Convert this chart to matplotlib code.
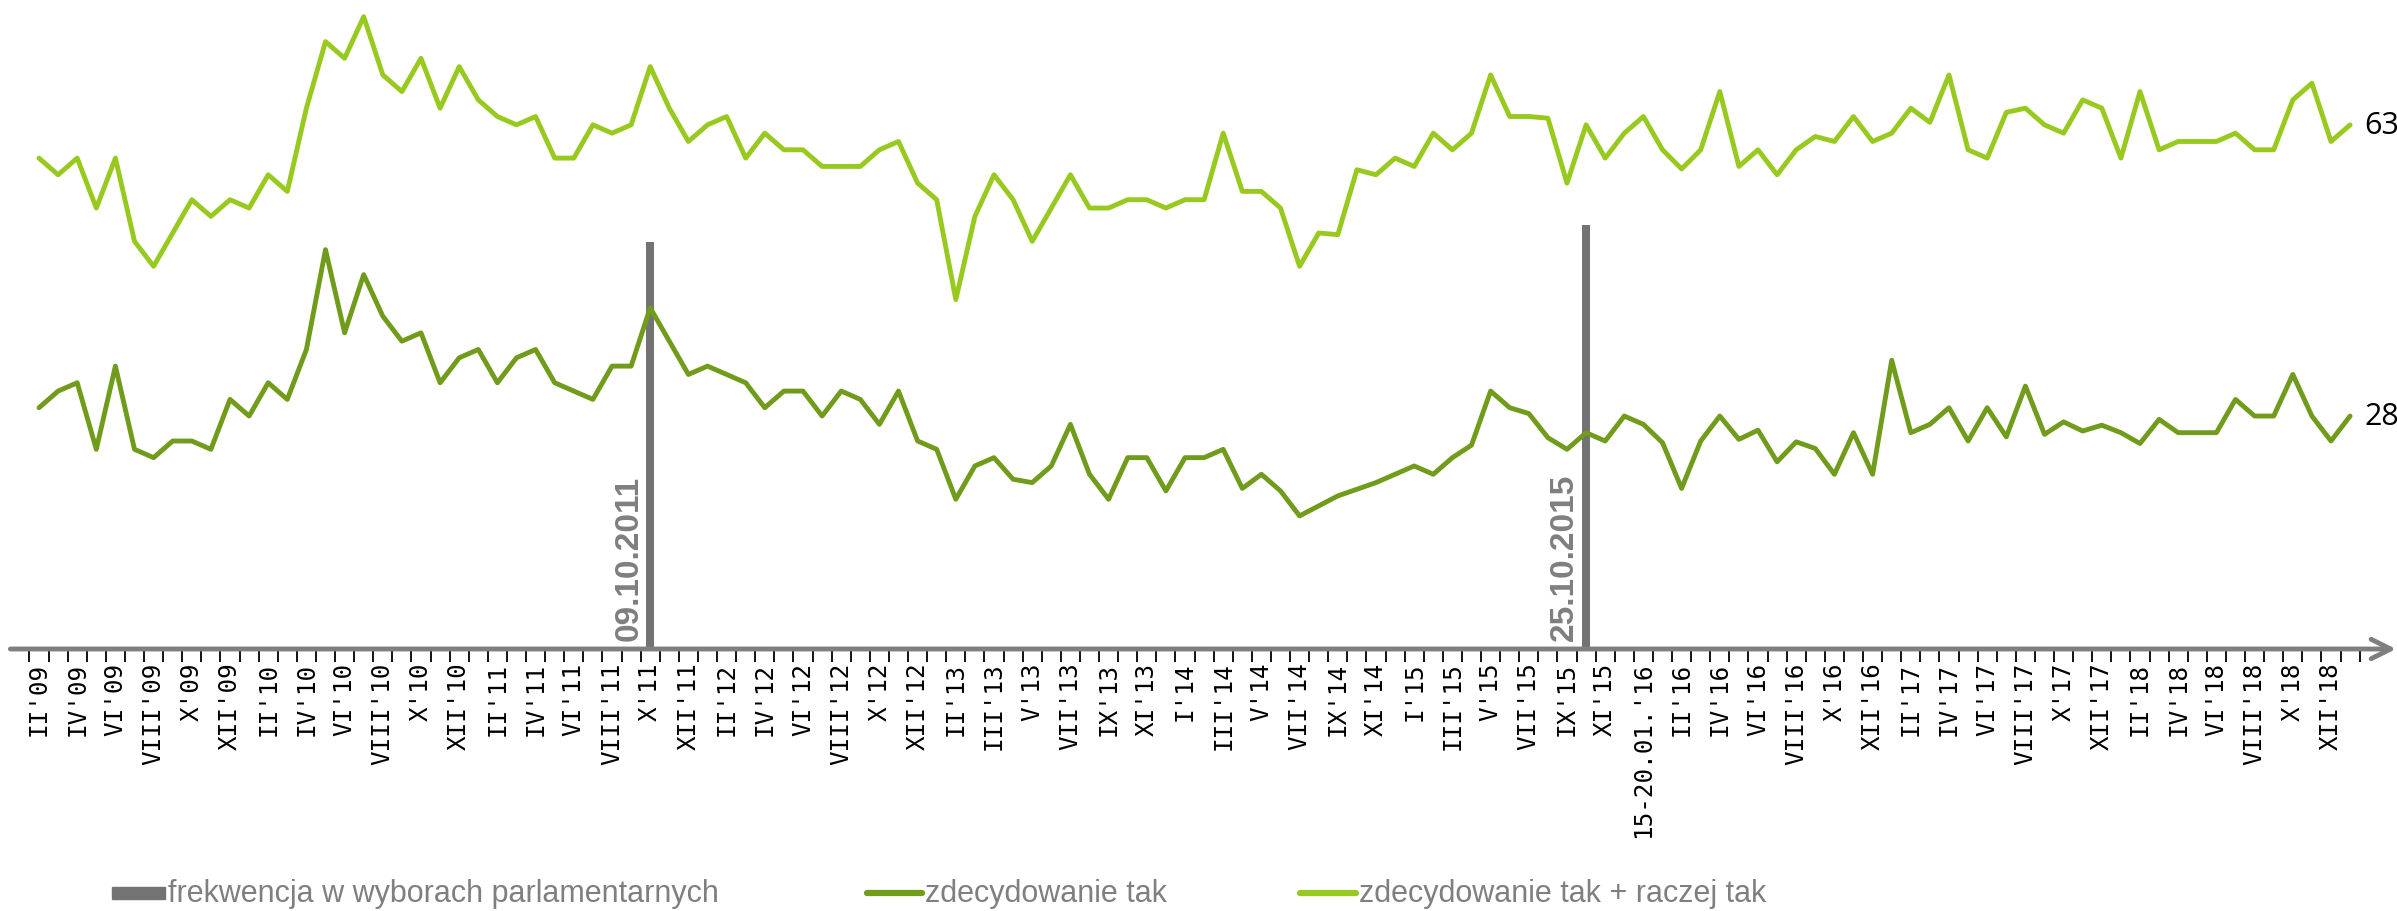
import matplotlib
matplotlib.use('Agg')
import matplotlib.pyplot as plt
import numpy as np

# survey waves, one label every second wave
tick_labels = ["II'09", "IV'09", "VI'09", "VIII'09", "X'09", "XII'09",
               "II'10", "IV'10", "VI'10", "VIII'10", "X'10", "XII'10",
               "II'11", "IV'11", "VI'11", "VIII'11", "X'11", "XII'11",
               "II'12", "IV'12", "VI'12", "VIII'12", "X'12", "XII'12",
               "II'13", "III'13", "V'13", "VII'13", "IX'13", "XI'13",
               "I'14", "III'14", "V'14", "VII'14", "IX'14", "XI'14",
               "I'15", "III'15", "V'15", "VII'15", "IX'15", "XI'15",
               "15-20.01.'16", "II'16", "IV'16", "VI'16", "VIII'16", "X'16", "XII'16",
               "II'17", "IV'17", "VI'17", "VIII'17", "X'17", "XII'17",
               "II'18", "IV'18", "VI'18", "VIII'18", "X'18", "XII'18"]

# zdecydowanie tak + raczej tak
yes_total = [59, 57, 59, 53, 59, 49, 46, 50, 54, 52, 54, 53, 57, 55, 65, 73, 71, 76, 69, 67,
             71, 65, 70, 66, 64, 63, 64, 59, 59, 63, 62, 63, 70, 65, 61, 63, 64, 59, 62, 60,
             60, 58, 58, 58, 60, 61, 56, 54, 42, 52, 57, 54, 49, 53, 57, 53, 53, 54, 54, 53,
             54, 54, 62, 55, 55, 53, 46, 50, 49.8, 57.6, 57, 59, 58, 62, 60, 62, 69, 64, 64, 63.8,
             56, 63, 59, 62, 64, 60, 57.7, 60, 67, 58, 60, 57, 60, 61.6, 61, 64, 61, 62, 65, 63.3,
             69, 60, 59, 64.5, 65, 63, 62, 66, 65, 59, 67, 60, 61, 61, 61, 62, 60, 60, 66, 68,
             61, 63]

# zdecydowanie tak
yes_strong = [29, 31, 32, 24, 34, 24, 23, 25, 25, 24, 30, 28, 32, 30, 36, 48, 38, 45, 40, 37,
              38, 32, 35, 36, 32, 35, 36, 32, 31, 30, 34, 34, 41, 37, 33, 34, 33, 32, 29, 31,
              31, 28, 31, 30, 27, 31, 25, 24, 18, 22, 23, 20.4, 20, 22, 27, 21, 18, 23, 23, 19,
              23, 23, 24, 19.3, 21, 19, 16, 17.2, 18.4, 19.2, 20, 21, 22, 21, 23, 24.5, 31, 29, 28.3, 25.4,
              24, 26, 25, 28, 27, 24.8, 19.3, 25, 28, 25.2, 26.3, 22.5, 24.9, 24.1, 21, 26, 21, 34.7, 26, 27,
              29, 25, 29, 25.5, 31.6, 25.8, 27.3, 26.2, 26.9, 26, 24.7, 27.6, 26, 26, 26, 30, 28, 28, 33, 28,
              25, 28]

# turnout in parliamentary elections
election_idx = [32, 81]
election_turnout = [48.92, 50.92]
election_dates = ['09.10.2011', '25.10.2015']

LIGHT = '#98C91F'
DARK = '#709B1B'
GREY = '#737373'
TXT_GREY = '#7F7F7F'
NARROW = ['Liberation Sans Narrow', 'Liberation Sans', 'DejaVu Sans']

W, H = 2397, 912
fig = plt.figure(figsize=(W / 100, H / 100), dpi=100)
ax_bottom = (H - 650) / H
ax = fig.add_axes([0, ax_bottom, 1, 1 - ax_bottom])

n = len(yes_total)
x = np.arange(n)
step = 19.1
xmin = -39 / step
xmax = xmin + W / step
ax.set_xlim(xmin, xmax)
ax.set_ylim(0, 650 / 8.32)

ax.bar(election_idx, election_turnout, width=0.42, color=GREY, zorder=1)
for i, d in zip(election_idx, election_dates):
    ax.text(i - 0.3, 1.1, d, rotation=90, ha='right', va='bottom', color=TXT_GREY,
            fontsize=24, fontweight='bold', family=NARROW)

ax.plot(x, yes_strong, color=DARK, lw=3.5, solid_joinstyle='round', solid_capstyle='round', zorder=3)
ax.plot(x, yes_total, color=LIGHT, lw=3.5, solid_joinstyle='round', solid_capstyle='round', zorder=3)

ax.text(n - 1 + 0.75, yes_total[-1], f'{yes_total[-1]:g}', va='center', ha='left',
        fontsize=22, family='Open Sans', color='black')
ax.text(n - 1 + 0.75, yes_strong[-1], f'{yes_strong[-1]:g}', va='center', ha='left',
        fontsize=22, family='Open Sans', color='black')

for s in ax.spines.values():
    s.set_visible(False)
ax.set_yticks([])

# x axis line with arrow
ax.annotate('', xy=(xmax - 0.05, 0), xytext=(-1.5, 0), xycoords='data',
            arrowprops=dict(arrowstyle='->', color=TXT_GREY, lw=3.5, mutation_scale=35,
                            shrinkA=0, shrinkB=0), annotation_clip=False)

ax.set_xticks(np.arange(-0.5, n, 1.0), minor=True)
ax.set_xticks(np.arange(0, n, 2))
ax.set_xticklabels(tick_labels, rotation=90, family='DejaVu Sans Mono', fontsize=17.5)
ax.tick_params(axis='x', which='major', length=0, pad=9)
ax.tick_params(axis='x', which='minor', length=9, width=1.3, color='black', direction='out')
for lab in ax.get_xticklabels():
    lab.set_va('top')

# legend
def px(xp, yp):
    return xp / W, 1 - yp / H

ly = 894
fig.patches.append(plt.Rectangle(px(112, ly + 6), 53 / W, 12 / H, transform=fig.transFigure,
                                 color=GREY, figure=fig))
fig.text(*px(168, ly), 'frekwencja w wyborach parlamentarnych', va='center', ha='left',
         fontsize=22, color=TXT_GREY, family=NARROW)
fig.lines.append(plt.Line2D([867 / W, 922 / W], [1 - ly / H] * 2, transform=fig.transFigure,
                            color=DARK, lw=4.5, solid_capstyle='round'))
fig.text(*px(925, ly), 'zdecydowanie tak', va='center', ha='left',
         fontsize=22, color=TXT_GREY, family=NARROW)
fig.lines.append(plt.Line2D([1300 / W, 1356 / W], [1 - ly / H] * 2, transform=fig.transFigure,
                            color=LIGHT, lw=4.5, solid_capstyle='round'))
fig.text(*px(1359, ly), 'zdecydowanie tak + raczej tak', va='center', ha='left',
         fontsize=22, color=TXT_GREY, family=NARROW)

fig.savefig('out.png', dpi=100)
